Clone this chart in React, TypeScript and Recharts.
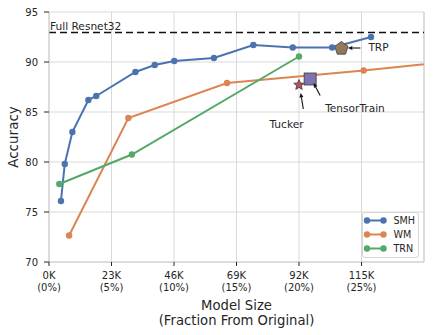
import {
  CartesianGrid,
  ComposedChart,
  Legend,
  Line,
  ReferenceLine,
  Scatter,
  XAxis,
  YAxis,
} from 'recharts'

// model size in thousands of parameters, accuracy in %
const smhSize = [4.4, 5.8, 8.6, 14.5, 17.4, 31.8, 38.9, 46.1, 60.7, 75.2, 89.7, 104.2, 118.5]
const smhAcc = [76.1, 79.8, 83.0, 86.2, 86.6, 89.0, 89.7, 90.1, 90.4, 91.7, 91.45, 91.45, 92.5]

const wmSize = [7.4, 29.2, 65.5, 115.8, 161]
const wmAcc = [72.65, 84.4, 87.9, 89.15, 90.4]

const trnSize = [3.8, 30.5, 92]
const trnAcc = [77.8, 80.75, 90.55]

const trpPoint = [{ x: 107.6, y: 91.4 }]
const tensorTrainPoint = [{ x: 96.1, y: 88.3 }]
const tuckerPoint = [{ x: 92, y: 87.7 }]

const fullResnetAcc = 92.95
const fullModelSize = 460

const xTicks = [0, 23, 46, 69, 92, 115]
const yTicks = [70, 75, 80, 85, 90, 95]

const seriesNames = ['SMH', 'WM', 'TRN']
const seriesColors = ['#4c72b0', '#dd8452', '#55a868']

const toPoints = (xs: number[], ys: number[]) => xs.map((x, i) => ({ x, y: ys[i] }))

const smhData = toPoints(smhSize, smhAcc)
const wmData = toPoints(wmSize, wmAcc)
const trnData = toPoints(trnSize, trnAcc)

const textColor = '#262626'
const font = 'DejaVu Sans, sans-serif'

function XTick({ x, y, payload }: any) {
  const pct = Math.round((payload.value / fullModelSize) * 100)
  return (
    <text x={x} y={y} textAnchor="middle" fill={textColor} fontSize={10} fontFamily={font}>
      <tspan x={x} dy={11}>{`${payload.value}K`}</tspan>
      <tspan x={x} dy={12}>{`(${pct}%)`}</tspan>
    </text>
  )
}

function arrow(x1: number, y1: number, x2: number, y2: number) {
  const ang = Math.atan2(y2 - y1, x2 - x1)
  const len = 4.5
  const w = 2
  const bx = x2 - len * Math.cos(ang)
  const by = y2 - len * Math.sin(ang)
  const px = -Math.sin(ang) * w
  const py = Math.cos(ang) * w
  return (
    <g>
      <line x1={x1} y1={y1} x2={bx} y2={by} stroke="#111" strokeWidth={1.1} />
      <polygon points={`${x2},${y2} ${bx + px},${by + py} ${bx - px},${by - py}`} fill="#111" />
    </g>
  )
}

function polyPoints(cx: number, cy: number, r: number, n: number, inner?: number) {
  const pts: string[] = []
  const count = inner ? n * 2 : n
  for (let i = 0; i < count; i++) {
    const rad = inner && i % 2 === 1 ? inner : r
    const a = (-90 + (360 / count) * i) * (Math.PI / 180)
    pts.push(`${cx + rad * Math.cos(a)},${cy + rad * Math.sin(a)}`)
  }
  return pts.join(' ')
}

function TrpShape({ cx, cy }: any) {
  return (
    <g>
      <polygon points={polyPoints(cx, cy + 0.5, 7, 5)} fill="#937860" stroke="#3a3a3a" strokeWidth={0.8} />
      {arrow(cx + 19, cy, cx + 6.5, cy)}
      <text x={cx + 27} y={cy + 3} fill={textColor} fontSize={10.6} fontFamily={font}>
        TRP
      </text>
    </g>
  )
}

function TensorTrainShape({ cx, cy }: any) {
  return (
    <g>
      <rect x={cx - 6} y={cy - 6} width={12} height={12} fill="#8172b2" stroke="#3a3a3a" strokeWidth={0.8} />
      {arrow(cx + 10, cy + 16.5, cx + 3.5, cy + 4)}
      <text x={cx + 15} y={cy + 33} fill={textColor} fontSize={10.6} fontFamily={font}>
        TensorTrain
      </text>
    </g>
  )
}

function TuckerShape({ cx, cy }: any) {
  return (
    <g>
      <polygon points={polyPoints(cx, cy, 5.5, 5, 2.4)} fill="#c44e52" stroke="#3a3a3a" strokeWidth={0.8} />
      {arrow(cx + 4.3, cy + 24, cx + 1.7, cy + 8)}
      <text x={cx - 12.5} y={cy + 43} textAnchor="middle" fill={textColor} fontSize={10.6} fontFamily={font}>
        Tucker
      </text>
    </g>
  )
}

function LegendBox() {
  return (
    <div
      style={{
        width: 57,
        height: 46,
        boxSizing: 'border-box',
        border: '1px solid #d6d6d6',
        borderRadius: 3,
        background: 'rgba(255,255,255,0.85)',
      }}
    >
      <svg width={55} height={44} style={{ display: 'block' }}>
        {seriesNames.map((name, i) => {
          const y = 7.5 + i * 14
          return (
            <g key={name}>
              <line x1={4} y1={y} x2={20.5} y2={y} stroke={seriesColors[i]} strokeWidth={2} />
              <circle cx={4} cy={y} r={3.2} fill={seriesColors[i]} />
              <circle cx={20.5} cy={y} r={3.2} fill={seriesColors[i]} />
              <text x={30.5} y={y + 3.4} fill={textColor} fontSize={9.6} fontFamily={font}>
                {name}
              </text>
            </g>
          )
        })}
      </svg>
    </div>
  )
}

function XLabel(props: any) {
  const vb = props.viewBox || { x: 49, y: 262, width: 375 }
  const cx = vb.x + vb.width / 2
  return (
    <g fill={textColor} fontSize={13.2} fontFamily={font}>
      <text x={cx} y={vb.y + 47.5} textAnchor="middle">
        Model Size
      </text>
      <text x={cx} y={vb.y + 62.5} textAnchor="middle">
        (Fraction From Original)
      </text>
    </g>
  )
}

function YLabel(props: any) {
  const vb = props.viewBox || { x: 0, y: 12, height: 250 }
  const cy = vb.y + vb.height / 2
  const x = 17.5
  return (
    <text
      x={x}
      y={cy}
      transform={`rotate(-90, ${x}, ${cy})`}
      textAnchor="middle"
      fill={textColor}
      fontSize={13.5}
      fontFamily={font}
    >
      Accuracy
    </text>
  )
}

function FullLabel(props: any) {
  const vb = props.viewBox || { x: 49, y: 33 }
  return (
    <text x={vb.x + 1} y={vb.y - 2.3} fill={textColor} fontSize={10.6} fontFamily={font}>
      Full Resnet32
    </text>
  )
}

export default function App() {
  const dotStyle = (c: string) => ({ r: 3.2, fill: c, stroke: c, strokeWidth: 0 })
  return (
    <div style={{ position: 'absolute', left: 0, top: 0, background: '#fff' }}>
      <ComposedChart width={447} height={335} margin={{ top: 12, right: 23, bottom: 0, left: 0 }}>
        <CartesianGrid stroke="#d9d9d9" strokeWidth={1} />
        <XAxis
          type="number"
          dataKey="x"
          domain={[0, 138]}
          ticks={xTicks}
          allowDataOverflow
          height={73}
          axisLine={{ stroke: '#cccccc' }}
          tickLine={{ stroke: textColor }}
          tickSize={4}
          tickMargin={2}
          tick={<XTick />}
          interval={0}
          label={{ content: <XLabel /> }}
        />
        <YAxis
          type="number"
          dataKey="y"
          domain={[70, 95]}
          ticks={yTicks}
          allowDataOverflow
          width={49}
          axisLine={{ stroke: '#cccccc' }}
          tickLine={{ stroke: textColor }}
          tickSize={5}
          tickMargin={6}
          tick={{ fill: textColor, fontSize: 10, fontFamily: font }}
          interval={0}
          label={{ content: <YLabel /> }}
        />
        <ReferenceLine x={138} stroke="#cccccc" />
        <ReferenceLine
          y={fullResnetAcc}
          stroke="#111"
          strokeWidth={1.3}
          strokeDasharray="7 4"
          label={<FullLabel />}
        />
        <Line
          data={smhData}
          dataKey="y"
          name={seriesNames[0]}
          type="linear"
          stroke={seriesColors[0]}
          strokeWidth={2}
          dot={dotStyle(seriesColors[0])}
          activeDot={false}
          isAnimationActive={false}
        />
        <Line
          data={wmData}
          dataKey="y"
          name={seriesNames[1]}
          type="linear"
          stroke={seriesColors[1]}
          strokeWidth={2}
          dot={dotStyle(seriesColors[1])}
          activeDot={false}
          isAnimationActive={false}
        />
        <Line
          data={trnData}
          dataKey="y"
          name={seriesNames[2]}
          type="linear"
          stroke={seriesColors[2]}
          strokeWidth={2}
          dot={dotStyle(seriesColors[2])}
          activeDot={false}
          isAnimationActive={false}
        />
        <Scatter data={trpPoint} dataKey="y" shape={<TrpShape />} isAnimationActive={false} legendType="none" />
        <Scatter
          data={tensorTrainPoint}
          dataKey="y"
          shape={<TensorTrainShape />}
          isAnimationActive={false}
          legendType="none"
        />
        <Scatter data={tuckerPoint} dataKey="y" shape={<TuckerShape />} isAnimationActive={false} legendType="none" />
        <Legend
          layout="horizontal"
          verticalAlign="middle"
          align="center"
          content={<LegendBox />}
          wrapperStyle={{ left: 362, top: 211.5, width: 57, height: 46 }}
        />
      </ComposedChart>
    </div>
  )
}
